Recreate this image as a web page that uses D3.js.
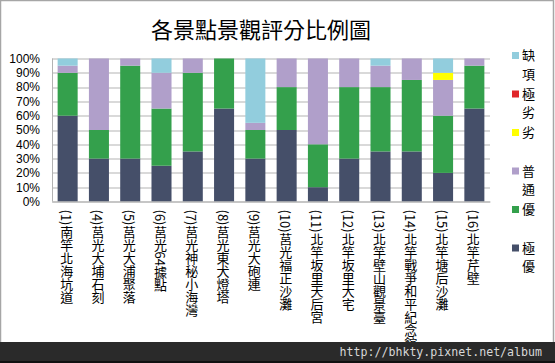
<!DOCTYPE html>
<html>
<head>
<meta charset="utf-8">
<script src="https://cdn.jsdelivr.net/npm/d3@7"></script>
<style>
  html, body { margin: 0; padding: 0; background: #fff; }
  svg { display: block; }
</style>
</head>
<body>
<div id="chart"></div>
<script>
// Data (percent per rating level, per scenic spot)
const categories = [
  "(1)南竿北海坑道", "(4)莒光大埔石刻", "(5)莒光大浦聚落", "(6)莒光64據點",
  "(7)莒光神秘小海灣", "(8)莒光東犬燈塔", "(9)莒光大砲連", "(10)莒光福正沙灘",
  "(11)北竿坂里天后宮", "(12)北竿坂里大宅", "(13)北竿壁山觀景臺", "(14)北竿戰爭和平紀念館",
  "(15)北竿塘后沙灘", "(16)北竿芹壁"
];
// series bottom -> top
const seriesNames = ["極優", "優", "普通", "劣", "極劣", "缺項"];
const excellent = [60, 30, 30, 25, 35, 65, 30, 50, 10, 30, 35, 35, 20, 65];
const good      = [30, 20, 65, 40, 55, 35, 20, 30, 30, 50, 45, 50, 40, 30];
const fair      = [ 5, 50,  5, 25, 10,  0,  5, 20, 60, 20, 15, 15, 25,  5];
const poor      = [ 0,  0,  0,  0,  0,  0,  0,  0,  0,  0,  0,  0,  5,  0];
const veryPoor  = [ 0,  0,  0,  0,  0,  0,  0,  0,  0,  0,  0,  0,  0,  0];
const missing   = [ 5,  0,  0, 10,  0,  0, 45,  0,  0,  0,  5,  0, 10,  0];
const colors = ["#454f69", "#34a04c", "#b09fca", "#ffff00", "#e0262a", "#92cddd"];
const yTicks = [0, 10, 20, 30, 40, 50, 60, 70, 80, 90, 100];
const legendOrder = ["缺項", "極劣", "劣", "普通", "優", "極優"];

const W = 555, H = 363;
const margin = { top: 58.5, left: 52, right: 65, bottom: 161.5 };
const plotW = W - margin.left - margin.right;
const plotH = H - margin.top - margin.bottom;

const table = categories.map((c, i) => ({
  name: c,
  "極優": excellent[i], "優": good[i], "普通": fair[i],
  "劣": poor[i], "極劣": veryPoor[i], "缺項": missing[i]
}));

const stack = d3.stack().keys(seriesNames)(table);
const color = d3.scaleOrdinal().domain(seriesNames).range(colors);

const svg = d3.select("#chart").append("svg")
  .attr("width", W).attr("height", H);

svg.append("rect")
  .attr("x", 0.5).attr("y", 0.5).attr("width", W - 2).attr("height", H - 1)
  .attr("fill", "#fff").attr("stroke", "#a6a6a6").attr("stroke-width", 1.5);

// Title
svg.append("text")
  .attr("x", 261).attr("y", 38)
  .attr("text-anchor", "middle")
  .style("font-family", "'Noto Sans CJK TC', sans-serif")
  .style("font-size", "22px")
  .style("fill", "#000")
  .text("各景點景觀評分比例圖");

const g = svg.append("g").attr("transform", `translate(${margin.left},${margin.top})`);

const x = d3.scaleBand().domain(categories).range([0, plotW]).paddingInner(0.36).paddingOuter(0.18);
const y = d3.scaleLinear().domain([0, 100]).range([plotH, 0]);

// gridlines
g.append("g")
  .selectAll("line")
  .data(yTicks)
  .join("line")
  .attr("x1", 0).attr("x2", plotW)
  .attr("y1", d => Math.round(y(d)) + 0.5).attr("y2", d => Math.round(y(d)) + 0.5)
  .attr("stroke", "#b3b3b3").attr("stroke-width", 1);

g.append("line")
  .attr("x1", 0.5).attr("x2", 0.5).attr("y1", 0).attr("y2", plotH)
  .attr("stroke", "#b3b3b3");

// y axis
const yAxis = g.append("g")
  .call(d3.axisLeft(y).tickValues(yTicks).tickSize(0).tickPadding(12).tickFormat(d => d + "%"));
yAxis.select(".domain").remove();
yAxis.selectAll("text")
  .style("font-family", "'Liberation Sans', Arial, sans-serif")
  .style("font-size", "12px")
  .style("fill", "#000");

// bars
g.selectAll(".series")
  .data(stack)
  .join("g")
  .attr("class", "series")
  .attr("fill", d => color(d.key))
  .selectAll("rect")
  .data(d => d)
  .join("rect")
  .attr("x", d => x(d.data.name))
  .attr("width", x.bandwidth())
  .attr("y", d => y(d[1]))
  .attr("height", d => y(d[0]) - y(d[1]));

// x axis labels (vertical text)
const xAxis = g.append("g")
  .attr("transform", `translate(0,${plotH})`)
  .call(d3.axisBottom(x).tickSize(0).tickPadding(0));
xAxis.select(".domain").attr("stroke", "#b3b3b3");
xAxis.selectAll("text")
  .attr("y", 8)
  .attr("dy", 0)
  .attr("x", -1)
  .attr("text-anchor", "start")
  .style("writing-mode", "vertical-rl")
  .style("font-family", "'Noto Sans CJK TC', sans-serif")
  .style("font-size", "13px")
  .style("fill", "#000");

// legend
const legend = svg.append("g").attr("transform", "translate(512,47)");
const item = legend.selectAll("g")
  .data(legendOrder)
  .join("g")
  .attr("transform", (d, i) => `translate(0,${i * 38.5})`);
item.append("rect")
  .attr("x", 0).attr("y", 5).attr("width", 7).attr("height", 7)
  .attr("fill", d => color(d));
item.append("text")
  .attr("x", 10)
  .style("font-family", "'Noto Sans CJK TC', sans-serif")
  .style("font-size", "13px")
  .style("fill", "#000")
  .selectAll("tspan")
  .data(d => d.split(""))
  .join("tspan")
  .attr("x", 10)
  .attr("y", (d, i) => 13 + i * 18.5)
  .text(d => d);

// footer band
svg.append("rect")
  .attr("x", 0).attr("y", 342).attr("width", W).attr("height", H - 342)
  .attr("fill", "#2a2a2a");
svg.append("rect")
  .attr("x", 0).attr("y", 361).attr("width", W).attr("height", 2)
  .attr("fill", "#111");
svg.append("text")
  .attr("x", 542).attr("y", 356)
  .attr("text-anchor", "end")
  .style("font-family", "'DejaVu Sans Mono', 'Liberation Mono', monospace")
  .style("font-size", "11.6px")
  .style("fill", "#d8d8d8")
  .text("http://bhkty.pixnet.net/album");
</script>
</body>
</html>
